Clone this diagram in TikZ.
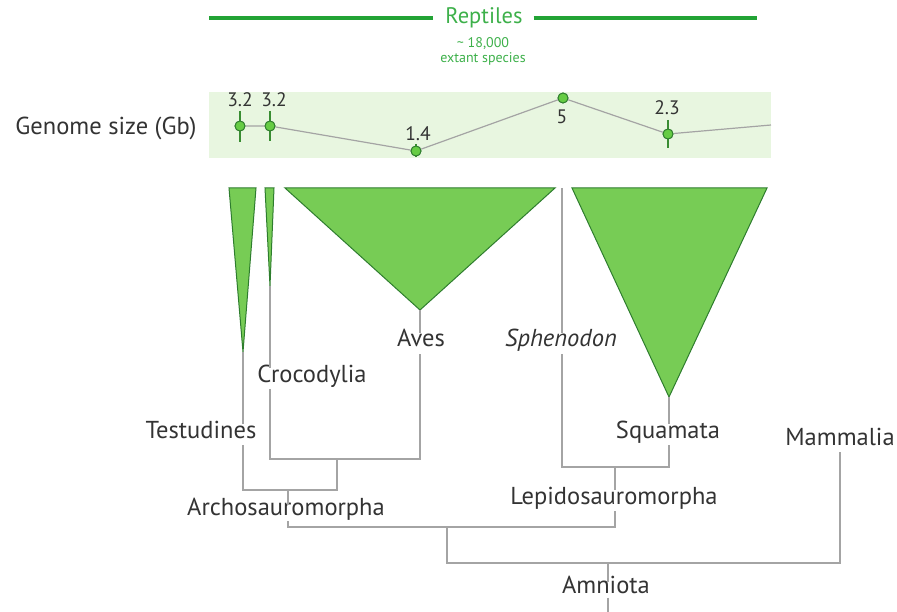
\documentclass[tikz,border=0pt]{standalone}
\usepackage{fontspec}
\setmainfont{PT Sans}
\definecolor{tri}{HTML}{77CC55}
\definecolor{tridark}{HTML}{2E7D2E}
\definecolor{band}{HTML}{E8F6E0}
\definecolor{branch}{HTML}{A4A4A4}
\definecolor{txt}{HTML}{333333}
\definecolor{rept}{HTML}{22A335}
\definecolor{repttxt}{HTML}{3DB04A}
\definecolor{pt}{HTML}{66CC44}
\begin{document}
\begin{tikzpicture}[x=1pt,y=-1pt,
  taxon/.style={font=\fontsize{24.5}{26}\selectfont, text=txt, anchor=base, inner xsep=3pt, inner ysep=4.5pt, text height=0.9em, text depth=0.22em},
  val/.style={font=\fontsize{19.5}{21}\selectfont, text=txt, inner sep=0pt},
  tree/.style={draw=branch, line width=1.4pt},
  clade/.style={fill=tri, draw=tridark, line width=1pt, line join=miter},
  gpt/.style={circle, fill=pt, draw=tridark, line width=0.9pt, minimum size=10pt, inner sep=0pt},
  ebar/.style={draw=tridark!80!pt, line width=1.2pt},
  gline/.style={draw=branch, line width=1.2pt}]
\useasboundingbox (0,0) rectangle (897,612);

% Reptiles header
\node[font=\fontsize{22.5}{24}\selectfont, text=repttxt, inner sep=0pt] (rep) at (484,18) {Reptiles};
\node[font=\fontsize{14}{16}\selectfont, text=repttxt, inner sep=0pt, align=center] (spec) at (483,51) {\textasciitilde\ 18,000\\[-1pt]extant species};
\coordinate (rl) at (209,18);
\coordinate (rr) at (757,18);
\draw[rept, line width=3.5pt] (rl) -- ([xshift=-12pt]rep.west);
\draw[rept, line width=3.5pt] ([xshift=11pt]rep.east) -- (rr);

% Genome band
\fill[band] (209,92) rectangle (771,158);
\node[font=\fontsize{24.5}{26}\selectfont, text=txt] (gs) at (106,128) {Genome size (Gb)};

\coordinate (g0) at (771,125);
\node[gpt] (p1) at (240,126) {};
\node[gpt] (p2) at (270,126) {};
\node[gpt] (p3) at (416,151) {};
\node[gpt] (p4) at (563,98) {};
\node[gpt] (p5) at (668,134) {};
\draw[gline] (p1) -- (p2) -- (p3) -- (p4) -- (p5) -- (g0);
\draw[ebar] (240,111) -- (240,142);
\draw[ebar] (270,111) -- (270,141);
\draw[ebar] (416,144) -- (416,157);
\draw[ebar] (668,120) -- (668,148);
\node[gpt] at (240,126) {};
\node[gpt] at (270,126) {};
\node[gpt] at (416,151) {};
\node[gpt] at (563,98) {};
\node[gpt] at (668,134) {};
\node[val] (v1) at (240,100) {3.2};
\node[val] (v2) at (274,100) {3.2};
\node[val] (v3) at (418,134) {1.4};
\node[val] (v4) at (562,117) {5};
\node[val] (v5) at (667,108) {2.3};

% Clade triangles
\draw[clade] (229,188) -- (256,188) -- (243,352) -- cycle;
\draw[clade] (265,188) -- (274,188) -- (270,286) -- cycle;
\draw[clade] (285,188) -- (555,188) -- (420,310) -- cycle;
\draw[clade] (572,188) -- (767,188) -- (669,397) -- cycle;
\coordinate (aT) at (243,352);
\coordinate (aC) at (270,286);
\coordinate (aA) at (420,310);
\coordinate (aS) at (669,397);
\coordinate (sTop) at (562,188);

% Labels
\node[taxon] (ave) at (421,347) {Aves};
\node[taxon] (sph) at (561,347) {\itshape Sphenodon};
\node[taxon] (cro) at (312,382) {Crocodylia};
\node[taxon] (tes) at (201,438) {Testudines};
\node[taxon] (squ) at (668,438) {Squamata};
\node[taxon] (mam) at (840,445) {Mammalia};
\node[taxon, text height=0.55em, text depth=0.15em] (arc) at (286,515) {Archosauromorpha};
\node[taxon] (lep) at (614,504) {Lepidosauromorpha};
\node[taxon, text height=0.68em, text depth=0pt] (amn) at (606,593) {Amniota};

% Junctions
\coordinate (jCA) at (337,459);
\coordinate (jTA) at (288,490);
\coordinate (jAL) at (447,527);
\coordinate (jSS) at (615,467);
\coordinate (jAM) at (608,563);
\coordinate (jMa) at (840,563);
\coordinate (root) at (608,612);

% Tree
\draw[tree] (aT) -- (aT |- tes.north);
\draw[tree] (aT |- tes.south) -- (243,490) -- (337,490) -- (jCA);
\draw[tree] (aC) -- (aC |- cro.north);
\draw[tree] (aC |- cro.south) -- (270,459) -- (420,459) -- (aA |- ave.south);
\draw[tree] (aA) -- (aA |- ave.north);
\draw[tree] (jTA) -- (jTA |- arc.north);
\draw[tree] (jTA |- arc.south) -- (288,527) -- (615,527) -- (jSS |- lep.south);
\draw[tree] (jSS) -- (jSS |- lep.north);
\draw[tree] (sTop) -- (sTop |- sph.north);
\draw[tree] (sTop |- sph.south) -- (562,467) -- (669,467) -- (aS |- squ.south);
\draw[tree] (aS) -- (aS |- squ.north);
\draw[tree] (jAL) -- (447,563) -- (jMa) -- (jMa |- mam.south);
\draw[tree] (jAM) -- (jAM |- amn.north);
\draw[tree] (jAM |- amn.south) -- (root);
\end{tikzpicture}
\end{document}
